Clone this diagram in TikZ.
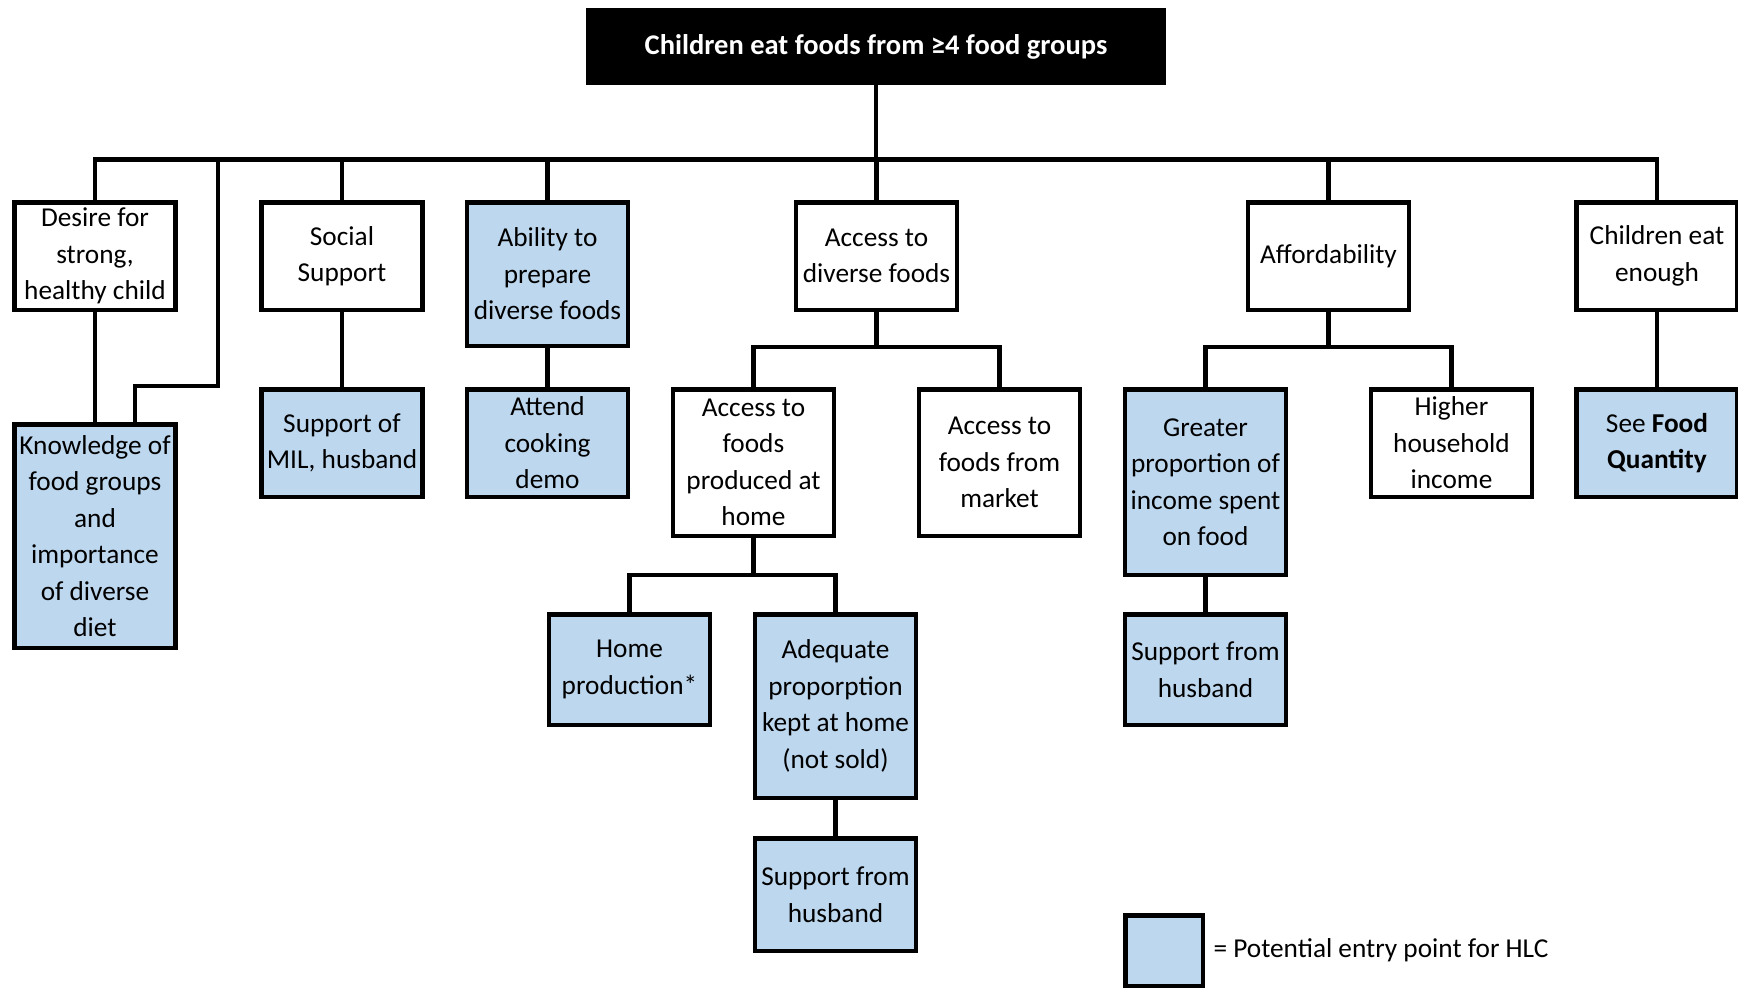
\documentclass[tikz,border=0pt]{standalone}
\usepackage{fontspec}
\setmainfont{Carlito}
\usetikzlibrary{positioning}

\definecolor{hlcblue}{RGB}{189,215,238}
\newcommand{\boxfont}{\fontsize{27.3}{36.5}\selectfont}

\tikzset{
  box/.style={draw, line width=4.5pt, align=center, inner sep=1pt, font=\boxfont,
    minimum width=161pt, minimum height=107.5pt},
  entry/.style={box, fill=hlcblue},
  link/.style={line width=4.5pt},
}

\begin{document}
\begin{tikzpicture}[x=1pt,y=-1pt]
\useasboundingbox (0,0) rectangle (1738,990);

%title
\node[box, fill=black, text=white, font=\fontsize{28.5}{34}\selectfont\bfseries, minimum width=575pt, minimum height=72pt] (title) at (876,46.5) {Children eat foods from ≥4 food groups};

%first row
\node[box] (desire) at (95,256) {Desire for\\strong,\\healthy child};
\node[box] (social) at (342,256) {Social\\Support};
\node[entry, minimum height=143.5pt] (ability) at (547.5,274) {Ability to\\prepare\\diverse foods};
\node[box] (access) at (876.5,256) {Access to\\diverse foods};
\node[box] (afford) at (1328.5,256) {Affordability};
\node[box] (enough) at (1657,256) {Children eat\\enough};

%second row
\node[entry, minimum height=223.5pt] (knowledge) at (95,536) {Knowledge of\\food groups\\and\\importance\\of diverse\\diet};
\node[entry] (mil) at (342,443) {Support of\\MIL, husband};
\node[entry] (cooking) at (547.5,443) {Attend\\cooking\\demo};
\node[box, minimum height=146.5pt] (homefoods) at (753.5,462.5) {Access to\\foods\\produced at\\home};
\node[box, minimum height=146.5pt] (market) at (999.5,462.5) {Access to\\foods from\\market};
\node[entry, minimum height=185.5pt] (greater) at (1205.5,482) {Greater\\proportion of\\income spent\\on food};
\node[box] (higher) at (1451.5,443) {Higher\\household\\income};
\node[entry] (quantity) at (1657,443) {See \textbf{Food}\\\textbf{Quantity}};

%third row
\node[entry, minimum height=110.5pt] (homeprod) at (629.5,669.5) {Home\\production*};
\node[entry, minimum height=183.5pt] (adequate) at (835.5,706) {Adequate\\proporption\\kept at home\\(not sold)};
\node[entry, minimum height=110.5pt] (husbandhome) at (1205.5,669.5) {Support from\\husband};
\node[entry, minimum height=112.5pt] (husbandkept) at (835.5,894.5) {Support from\\husband};

%legend
\node[entry, minimum width=77.5pt, minimum height=70.5pt] (legend) at (1164,950.5) {};
\node[font=\boxfont, anchor=west, right=5pt of legend] (legendtext) {= Potential entry point for HLC};

%splits
\coordinate (bar) at (876,159.5);
\coordinate (knowjoin) at (218,386);
\coordinate (accsplit) at (876.5,347);
\coordinate (affsplit) at (1328.5,347);
\coordinate (homesplit) at (753.5,575);

%connectors
\draw[link] (title.south) -- (bar);
\draw[link] (desire.north) |- (bar) -| (enough.north);
\draw[link] (social.north) -- (social.north |- bar);
\draw[link] (ability.north) -- (ability.north |- bar);
\draw[link] (access.north) -- (access.north |- bar);
\draw[link] (afford.north) -- (afford.north |- bar);
\draw[link] (knowjoin |- bar) -- (knowjoin) -| ([xshift=40pt]knowledge.north);

\draw[link] (desire.south) -- (knowledge.north);
\draw[link] (social.south) -- (mil.north);
\draw[link] (ability.south) -- (cooking.north);
\draw[link] (enough.south) -- (quantity.north);

\draw[link] (access.south) -- (accsplit);
\draw[link] (homefoods.north) |- (accsplit) -| (market.north);
\draw[link] (afford.south) -- (affsplit);
\draw[link] (greater.north) |- (affsplit) -| (higher.north);

\draw[link] (homefoods.south) -- (homesplit);
\draw[link] (homeprod.north) |- (homesplit) -| (adequate.north);
\draw[link] (adequate.south) -- (husbandkept.north);
\draw[link] (greater.south) -- (husbandhome.north);

\end{tikzpicture}
\end{document}
